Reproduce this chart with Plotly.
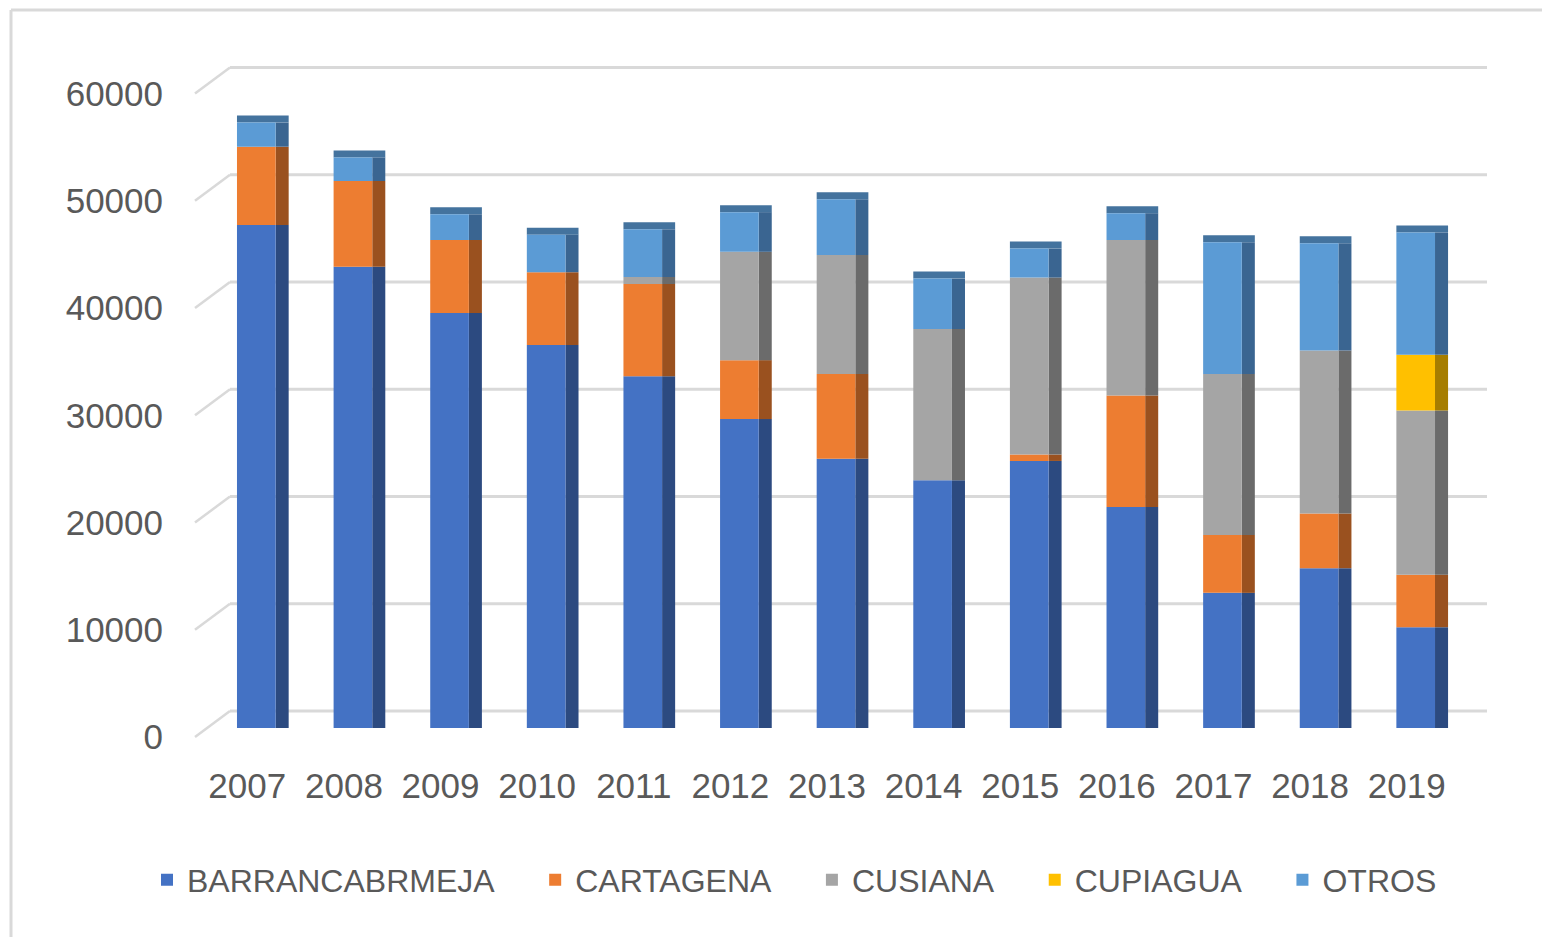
import numpy as np
import plotly.graph_objects as go

years = ["2007", "2008", "2009", "2010", "2011", "2012", "2013",
         "2014", "2015", "2016", "2017", "2018", "2019"]
barrancabermeja = [46900, 43000, 38700, 35700, 32800, 28800, 25100, 23100, 24900, 20600, 12600, 14900, 9400]
cartagena = [7300, 8000, 6800, 6800, 8600, 5500, 7900, 0, 600, 10400, 5400, 5100, 4900]
cusiana = [0, 0, 0, 0, 650, 10100, 11100, 14100, 16500, 14500, 15000, 15200, 15300]
cupiagua = [0, 0, 0, 0, 0, 0, 0, 0, 0, 0, 0, 0, 5200]
otros = [2250, 2200, 2400, 3500, 4450, 3700, 5200, 4700, 2700, 2500, 12300, 10000, 11400]

series_names = ["BARRANCABRMEJA", "CARTAGENA", "CUSIANA", "CUPIAGUA", "OTROS"]
series_values = [barrancabermeja, cartagena, cusiana, cupiagua, otros]
tick_values = [0, 10000, 20000, 30000, 40000, 50000, 60000]
tick_labels = ["0", "10000", "20000", "30000", "40000", "50000", "60000"]

front_colors = ["#4472C4", "#ED7D31", "#A5A5A5", "#FFC000", "#5B9BD5"]
side_colors = ["#2C4A80", "#9A511F", "#6B6B6B", "#A67D00", "#3A6591"]
cap_color = "#44739E"

vals = np.array(series_values, dtype=float)
bases = np.vstack([np.zeros(vals.shape[1]), np.cumsum(vals, axis=0)[:-1]])
totals = vals.sum(axis=0)

# geometry (pixels)
W, H = 1542, 929
ML, MR, MT, MB = 187, 60, 52, 197
PW = W - ML - MR          # 1295
PH = H - MT - MB          # 680
k = 0.010725              # px per unit
bar_zero_px = 12          # bar floor above plot bottom
grid_zero_px = 29         # back grid floor above plot bottom
depth_px = 26             # perspective depth for the left diagonals
cap_px = 7

fig = go.Figure()
for name, v, b, sc in zip(series_names, vals, bases, side_colors):
    fig.add_trace(go.Bar(
        x=years, y=v, base=b, width=0.135, offset=0.2,
        marker=dict(color=sc, line=dict(width=0)),
        showlegend=False, hoverinfo="skip", name=name + " side",
        xaxis="x", yaxis="y"))
# top faces
fig.add_trace(go.Bar(
    x=years, y=[cap_px / k] * len(years), base=totals, width=0.535, offset=-0.2,
    marker=dict(color=cap_color, line=dict(width=0)),
    showlegend=False, hoverinfo="skip", name="top", xaxis="x", yaxis="y"))
pad = "\u00a0" * 4
for name, v, b, fc in zip(series_names, vals, bases, front_colors):
    fig.add_trace(go.Bar(
        x=years, y=v, base=b, width=0.4, offset=-0.2,
        marker=dict(color=fc, line=dict(width=0)),
        name=name + pad, xaxis="x", yaxis="y"))

grey_text = "#595959"
grid_color = "#D9D9D9"

shapes = []
for v in tick_values:
    # back wall grid line
    shapes.append(dict(type="line", xref="paper", yref="y2", layer="below",
                       x0=35 / PW, x1=(1487 - 195) / PW, y0=v, y1=v,
                       line=dict(color=grid_color, width=3)))
    # diagonal connector from the front label to the back wall
    shapes.append(dict(type="line", xref="paper", yref="y2", layer="below",
                       x0=0, x1=35 / PW, y0=v - depth_px / k, y1=v,
                       line=dict(color=grid_color, width=2.5)))
# chart area border (top and left)
shapes.append(dict(type="line", xref="paper", yref="paper",
                   x0=(3 - ML) / PW, x1=(W - ML) / PW,
                   y0=(PH + MT - 2) / PH, y1=(PH + MT - 2) / PH,
                   line=dict(color=grid_color, width=3)))
shapes.append(dict(type="line", xref="paper", yref="paper",
                   x0=(3 - ML) / PW, x1=(3 - ML) / PW,
                   y0=(PH + MT - 2) / PH, y1=-MB / PH,
                   line=dict(color=grid_color, width=3)))

fig.update_layout(
    width=W, height=H,
    barmode="overlay",
    paper_bgcolor="white", plot_bgcolor="white",
    margin=dict(l=ML, r=MR, t=MT, b=MB),
    font=dict(family="Liberation Sans, Arial", color=grey_text, size=32),
    showlegend=True,
    legend=dict(orientation="h", x=(147 - 8 - ML) / PW, xanchor="left",
                y=(PH + MT - (880 - 8)) / PH, yanchor="middle",
                font=dict(size=32, color=grey_text),
                traceorder="normal", itemclick=False, bgcolor="rgba(0,0,0,0)"),
    xaxis=dict(type="category", range=[-0.5, 12.5],
               domain=[(208 - 195) / PW, (1464 - 195) / PW],
               showgrid=False, zeroline=False, showline=False, ticks="",
               ticklabelstandoff=22, ticklabelshift=-9,
               tickfont=dict(size=35, color=grey_text), anchor="y"),
    yaxis=dict(range=[-bar_zero_px / k, (PH - bar_zero_px) / k],
               tickvals=tick_values, ticktext=tick_labels,
               showgrid=False, zeroline=False, showline=False, ticks="",
               ticklabelstandoff=44, ticklabelshift=9,
               tickfont=dict(size=35, color=grey_text), anchor="x"),
    yaxis2=dict(range=[-grid_zero_px / k, (PH - grid_zero_px) / k],
                visible=False, showgrid=False, zeroline=False,
                anchor="x", overlaying="y"),
    shapes=shapes,
)

fig.write_html("out.html")
